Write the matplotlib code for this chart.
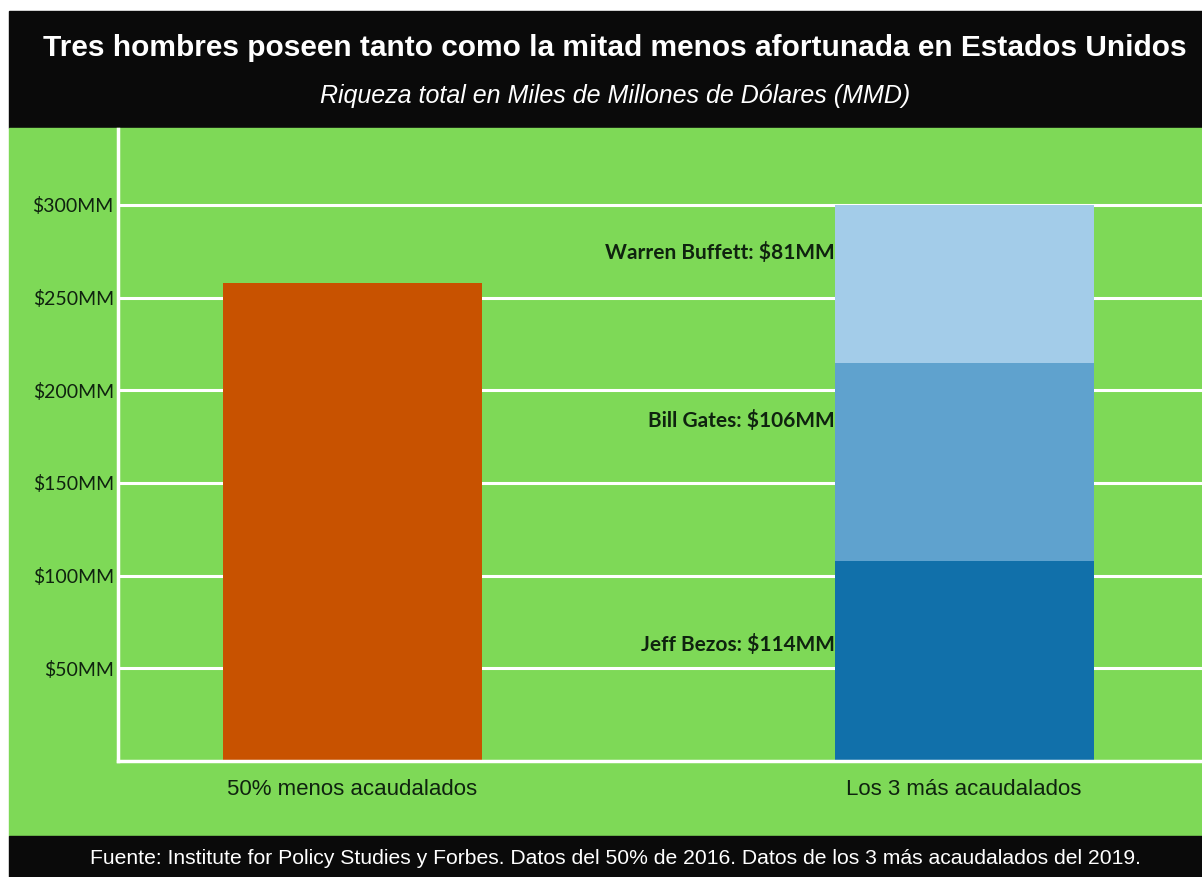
import matplotlib.pyplot as plt
from matplotlib.patches import Rectangle

# data
categories = ['50% menos acaudalados', 'Los 3 más acaudalados']
bottom_half = 258
richest_names = ['Jeff Bezos', 'Bill Gates', 'Warren Buffett']
richest_heights = [108, 107, 85]
richest_labels = ['$114', '$106', '$81']
yticks = [50, 100, 150, 200, 250, 300]
ytick_labels = ['$50MM', '$100MM', '$150MM', '$200MM', '$250MM', '$300MM']

green = '#7ED957'
txt = '#0f230f'
blues = ['#1170AA', '#5FA2CE', '#A3CCE9']
orange = '#C85200'

W, H = 1202, 877
fig = plt.figure(figsize=(W / 100, H / 100), dpi=100)
fig.patch.set_facecolor('white')

# background blocks (figure pixel coords -> fraction)
def frect(x0, y0, x1, y1, color):
    fig.patches.append(Rectangle((x0 / W, 1 - y1 / H), (x1 - x0) / W, (y1 - y0) / H,
                                 transform=fig.transFigure, color=color, zorder=-5))

frect(9, 11, W, 128, '#0a0a0a')
frect(9, 128, W, 836, green)
frect(9, 836, W, H, '#0a0a0a')

ax = fig.add_axes([118 / W, 1 - 761 / H, 1 - 118 / W, (761 - 129) / H])
ax.set_facecolor('none')
ax.set_zorder(2)

x = [0, 1]
width = 0.4236
ax.bar(x[0], bottom_half, width=width, color=orange, zorder=3)
bottom = 0
label_frac = [0.58, 0.71, 0.70]
for h, c, name, val, f in zip(richest_heights, blues, richest_names, richest_labels, label_frac):
    ax.bar(x[1], h, width=width, bottom=bottom, color=c, zorder=3)
    ax.text(x[1] - width / 2, bottom + f * h, name + ': ' + val + 'MM', ha='right', va='center',
            fontsize=15, fontweight='bold', family='Lato', color=txt, zorder=4)
    bottom += h

ax.set_xlim(-0.3835, 1.389)
ax.set_ylim(0, 341)
ax.set_yticks(yticks)
ax.set_yticklabels(ytick_labels, family='Lato', fontsize=14, color=txt)
ax.set_xticks(x)
ax.set_xticklabels(categories, family='Liberation Sans', fontsize=16, color=txt)
ax.tick_params(axis='y', length=0, pad=3)
ax.tick_params(axis='x', length=0, pad=13)
ax.grid(axis='y', color='white', linewidth=2.2, zorder=1)
ax.set_axisbelow(True)
for s in ['top', 'right']:
    ax.spines[s].set_visible(False)
for s in ['left', 'bottom']:
    ax.spines[s].set_color('white')
    ax.spines[s].set_linewidth(2.5)
    ax.spines[s].set_zorder(5)

cx = 615 / W
fig.text(cx, 1 - 48 / H,
         'Tres hombres poseen tanto como la mitad menos afortunada en Estados Unidos',
         ha='center', va='center', color='white', fontsize=21.5, fontweight='bold',
         family='Liberation Sans')
fig.text(cx, 1 - 96 / H, 'Riqueza total en Miles de Millones de Dólares (MMD)',
         ha='center', va='center', color='white', fontsize=18, style='italic',
         family='Liberation Sans')
fig.text(cx, 1 - 858 / H,
         'Fuente: Institute for Policy Studies y Forbes. Datos del 50% de 2016. '
         'Datos de los 3 más acaudalados del 2019.',
         ha='center', va='center', color='white', fontsize=15.2, family='Liberation Sans')

fig.savefig('out.png', dpi=100, facecolor=fig.get_facecolor())
